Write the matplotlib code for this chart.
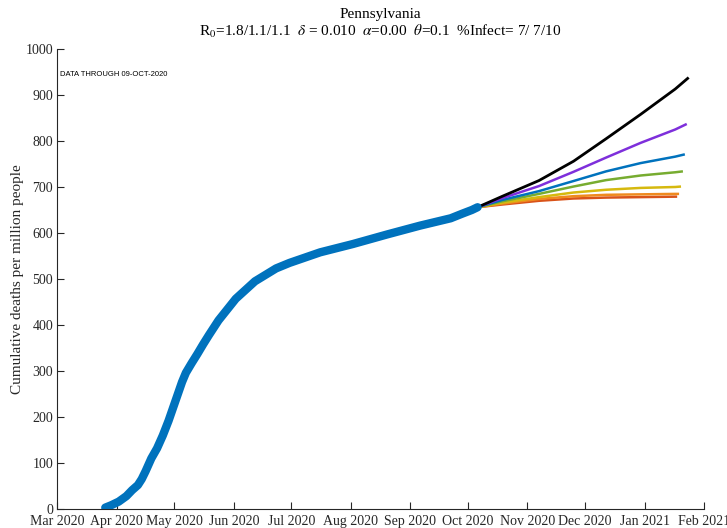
"""Pennsylvania cumulative deaths per million with scenario projections."""

import matplotlib

matplotlib.use("Agg")

import matplotlib.dates as mdates
import matplotlib.pyplot as plt
import numpy as np

obs_dates = [
    "2020-03-26", "2020-03-29", "2020-04-02", "2020-04-06", "2020-04-09",
    "2020-04-12", "2020-04-14", "2020-04-16", "2020-04-19", "2020-04-22",
    "2020-04-25", "2020-04-28", "2020-05-02", "2020-05-05", "2020-05-07",
    "2020-05-10", "2020-05-13", "2020-05-16", "2020-05-19", "2020-05-24",
    "2020-06-02", "2020-06-12", "2020-06-23", "2020-06-30", "2020-07-16",
    "2020-08-02", "2020-08-08", "2020-08-20", "2020-09-06", "2020-09-22",
    "2020-09-28", "2020-10-03", "2020-10-06",
]
obs_vals = [
    3, 8, 16, 28, 41,
    52, 65, 82, 110, 132,
    160, 192, 240, 276, 296,
    317, 337, 358, 378, 410,
    457, 495, 523, 535, 558,
    576, 583, 597, 616, 632,
    642, 650, 656,
]

# projection scenarios, shared sample dates + per-scenario end date
proj_dates = ["2020-10-06", "2020-10-19", "2020-11-07", "2020-11-25",
              "2020-12-12", "2020-12-30", "2021-01-17"]
proj_end_black = "2021-01-24"
proj_end_purple = "2021-01-23"
proj_end_blue = "2021-01-22"
proj_end_green = "2021-01-21"
proj_end_yellow = "2021-01-20"
proj_end_orange = "2021-01-19"
proj_end_red = "2021-01-18"
proj_black = [656, 680, 714, 756, 805, 858, 913, 938]
proj_purple = [656, 676, 702, 733, 764, 796, 825, 837]
proj_blue = [656, 672, 691, 713, 734, 752, 766, 771]
proj_green = [656, 669, 685, 701, 715, 725, 732, 734]
proj_yellow = [656, 666, 678, 688, 694, 698, 700, 701]
proj_orange = [656, 664, 674, 680, 683, 684, 685, 685]
proj_red = [656, 662, 670, 675, 677, 678, 679, 679]

month_ticks = [
    "2020-03-01", "2020-04-01", "2020-05-01", "2020-06-01", "2020-07-01", "2020-08-01",
    "2020-09-01", "2020-10-01", "2020-11-01", "2020-12-01", "2021-01-01", "2021-02-01",
]

plt.rcParams["font.family"] = ["Liberation Serif", "DejaVu Serif"]
plt.rcParams["mathtext.fontset"] = "stix"

axis_gray = "#262626"

fig = plt.figure(figsize=(7.27, 5.28), dpi=100)
ax_pos = [0.0788, 0.036, 0.8896, 0.8712]
ax = fig.add_axes(ax_pos)

# projections (drawn bottom-up so black sits on top)
series = [
    (proj_red, proj_end_red, "#D95319", 1.8),
    (proj_orange, proj_end_orange, "#EF8A1E", 1.8),
    (proj_yellow, proj_end_yellow, "#D6B90E", 1.8),
    (proj_green, proj_end_green, "#77AC30", 1.8),
    (proj_blue, proj_end_blue, "#0072BD", 1.8),
    (proj_purple, proj_end_purple, "#7E2FDB", 1.8),
    (proj_black, proj_end_black, "#000000", 2.0),
]
for vals, end, color, lw in series:
    d = [np.datetime64(s) for s in proj_dates] + [np.datetime64(end)]
    ax.plot(d, vals, color=color, lw=lw, solid_capstyle="butt",
            solid_joinstyle="round", zorder=3)

# observed data
od = [np.datetime64(s) for s in obs_dates]
ax.plot(od, obs_vals, color="#0072BD", lw=6, solid_capstyle="round",
        solid_joinstyle="round", zorder=4)

ax.set_xlim(np.datetime64(month_ticks[0]), np.datetime64(month_ticks[-1]))
ax.set_ylim(0, 1000)
ax.set_xticks([np.datetime64(s) for s in month_ticks])
ax.xaxis.set_major_formatter(mdates.DateFormatter("%b %Y"))
ax.set_yticks(np.arange(0, 1001, 100))

for side in ["top", "right"]:
    ax.spines[side].set_visible(False)
for side in ["left", "bottom"]:
    ax.spines[side].set_color(axis_gray)
    ax.spines[side].set_linewidth(0.8)
ax.tick_params(direction="in", length=5, width=0.8, colors=axis_gray,
               labelsize=10, pad=3)
ax.tick_params(axis="x", pad=4)

ax.set_ylabel("Cumulative deaths per million people", fontsize=11, color=axis_gray,
              labelpad=1)

cx = ax_pos[0] + ax_pos[2] / 2
fig.text(cx, 0.973, "Pennsylvania", ha="center", va="center", fontsize=11, color="black")
fig.text(cx, 0.94,
         r"R$_0$=1.8/1.1/1.1  $\delta$ = 0.010  $\alpha$=0.00  $\theta$=0.1  %Infect= 7/ 7/10",
         ha="center", va="center", fontsize=11, color="black")

ax.text(0.004, 0.945, "DATA THROUGH 09-OCT-2020", transform=ax.transAxes,
        fontsize=5.5, family="Liberation Sans", color="black", va="center")

fig.savefig("out.png", dpi=100)
